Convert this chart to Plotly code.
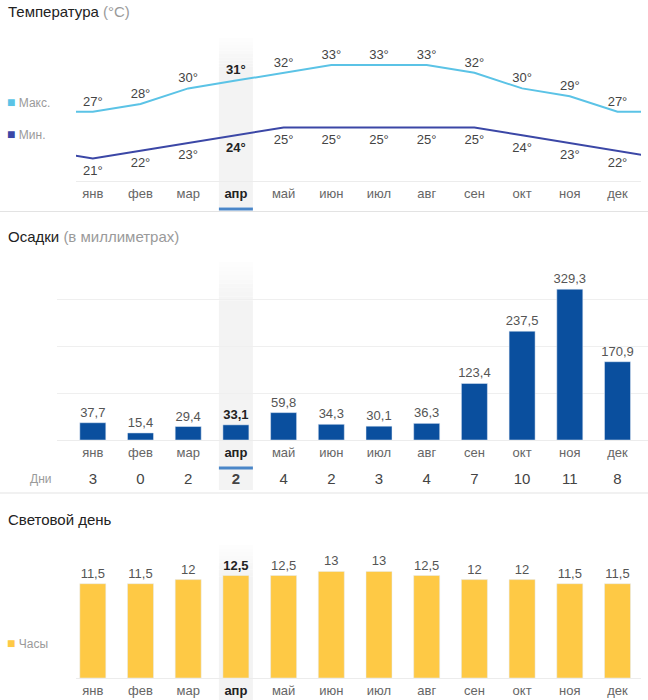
import plotly.graph_objects as go

# ---------------- data ----------------
months = ["янв", "фев", "мар", "апр", "май", "июн", "июл", "авг", "сен", "окт", "ноя", "дек"]
t_max = [27, 28, 30, 31, 32, 33, 33, 33, 32, 30, 29, 27]
t_min = [21, 22, 23, 24, 25, 25, 25, 25, 25, 24, 23, 22]
precip_mm = [37.7, 15.4, 29.4, 33.1, 59.8, 34.3, 30.1, 36.3, 123.4, 237.5, 329.3, 170.9]
rain_days = [3, 0, 2, 2, 4, 2, 3, 4, 7, 10, 11, 8]
daylight_h = [11.5, 11.5, 12, 12.5, 12.5, 13, 13, 12.5, 12, 12, 11.5, 11.5]
current = 3  # апр

# ---------------- geometry helpers ----------------
W, H = 648, 700
FONT = "Liberation Sans, Arial, sans-serif"
C0, STEP = 92.8, 47.7  # pixel centre of first month, pixel step


def fx(px):
    return px / W


def fy(py):
    return 1 - py / H


def ux(px):  # pixel -> category unit
    return (px - C0) / STEP


def fmt(v):
    s = f"{v:.1f}".replace(".", ",")
    return s[:-2] if s.endswith(",0") else s


idx = list(range(12))
tick_text = [f"<span style='color:#222'><b>{m}</b></span>" if i == current else m
             for i, m in enumerate(months)]

MAXC, MINC = "#5bc3e6", "#3b47a6"
BLUE, YEL = "#0a4f9e", "#fec945"
LAB, LABB = "#444444", "#222222"

fig = go.Figure()

# ---------------- temperature ----------------
xs = [-1] + idx + [12]
for vals, col, pos, msize in [(t_max, MAXC, "top center", 3), (t_min, MINC, "bottom center", 9)]:
    ys = [vals[-1]] + vals + [vals[0]]
    txt = [""] + [f"<b>{v}°</b>" if i == current else f"{v}°" for i, v in enumerate(vals)] + [""]
    tcol = [LAB] + [LABB if i == current else LAB for i in idx] + [LAB]
    fig.add_trace(go.Scatter(x=xs, y=ys, mode="lines+markers+text", text=txt, textposition=pos,
                             textfont=dict(size=13, color=tcol, family=FONT),
                             marker=dict(size=msize, color="rgba(0,0,0,0)"),
                             line=dict(color=col, width=2), xaxis="x", yaxis="y",
                             hoverinfo="skip", showlegend=False))

# ---------------- precipitation ----------------
fig.add_trace(go.Bar(x=idx, y=precip_mm, width=0.545, marker_color=BLUE,
                     text=[f"<b>{fmt(v)}</b>" if i == current else fmt(v) for i, v in enumerate(precip_mm)],
                     textposition="outside", cliponaxis=False, constraintext="none",
                     textfont=dict(size=13, color=[LABB if i == current else "#555" for i in idx], family=FONT),
                     xaxis="x2", yaxis="y2", hoverinfo="skip", showlegend=False))

fig.add_trace(go.Scatter(x=idx, y=[0.5] * 12, mode="text",
                         text=[f"<b>{d}</b>" if i == current else str(d) for i, d in enumerate(rain_days)],
                         textfont=dict(size=15, color=LAB, family=FONT),
                         xaxis="x2", yaxis="y4", hoverinfo="skip", showlegend=False))

# ---------------- daylight ----------------
fig.add_trace(go.Bar(x=idx, y=daylight_h, width=0.545, marker_color=YEL,
                     text=[f"<b>{fmt(v)}</b>" if i == current else fmt(v) for i, v in enumerate(daylight_h)],
                     textposition="outside", cliponaxis=False, constraintext="none",
                     textfont=dict(size=13, color=[LABB if i == current else "#555" for i in idx], family=FONT),
                     xaxis="x3", yaxis="y3", hoverinfo="skip", showlegend=False))

# ---------------- axes ----------------
xr_narrow = [ux(76), ux(641)]
xr_wide = [ux(57), ux(648)]


def xax(domain_px, rng, anchor):
    return dict(domain=[fx(domain_px[0]), fx(domain_px[1])], range=rng, anchor=anchor,
                tickmode="array", tickvals=idx, ticktext=tick_text, ticks="",
                tickfont=dict(size=13, color="#666", family=FONT),
                showline=True, linecolor="#ececec", linewidth=1,
                showgrid=False, zeroline=False, fixedrange=True)


T_PX = 7.8
temp_lo = 33 - (181 - 65) / T_PX
temp_hi = 33 + (65 - 45) / T_PX
P_PX = 0.458
D_PX = 8.2

fig.update_layout(
    width=W, height=H, margin=dict(l=0, r=0, t=0, b=0),
    paper_bgcolor="white", plot_bgcolor="rgba(0,0,0,0)",
    font=dict(family=FONT, color="#444"),
    xaxis=xax((76, 641), xr_narrow, "y"),
    yaxis=dict(domain=[fy(181), fy(45)], range=[temp_lo, temp_hi], visible=False, fixedrange=True),
    xaxis2=xax((57, 648), xr_wide, "y2"),
    yaxis2=dict(domain=[fy(440), fy(263)], range=[0, (440 - 263) / P_PX], anchor="x2",
                showticklabels=False, ticks="", tickmode="array", tickvals=[102, 204, 306],
                showgrid=True, gridcolor="#efefef", gridwidth=1, zeroline=False, fixedrange=True),
    yaxis4=dict(domain=[fy(490), fy(470)], range=[0, 1], anchor="x2", visible=False, fixedrange=True),
    xaxis3=xax((76, 641), xr_narrow, "y3"),
    yaxis3=dict(domain=[fy(678), fy(550)], range=[0, (678 - 550) / D_PX], anchor="x3",
                visible=False, fixedrange=True),
    showlegend=False,
)

# ---------------- highlight band, underlines, dividers ----------------
shapes = []
hw = 17 / STEP


def band(y_top, y_fade, y_bot, xref):
    n = 10
    step = (y_fade - y_top) / n
    for k in range(n):
        g = int(255 - (255 - 243) * (k + 1) / n)
        shapes.append(dict(type="rect", xref=xref, yref="paper", x0=current - hw, x1=current + hw,
                           y0=fy(y_top + step * (k + 1)), y1=fy(y_top + step * k),
                           fillcolor=f"rgb({g},{g},{g})", line=dict(width=0), layer="below"))
    shapes.append(dict(type="rect", xref=xref, yref="paper", x0=current - hw, x1=current + hw,
                       y0=fy(y_bot), y1=fy(y_fade), fillcolor="rgb(243,243,243)",
                       line=dict(width=0), layer="below"))


band(38, 70, 207, "x")
band(262, 305, 490, "x2")
band(545, 580, 700, "x3")

for yp, xref in [(209, "x"), (468, "x2")]:
    shapes.append(dict(type="line", xref=xref, yref="paper", x0=current - hw, x1=current + hw,
                       y0=fy(yp), y1=fy(yp), line=dict(color="#4a86c8", width=3)))
for yp in (211.5, 493):
    shapes.append(dict(type="line", xref="paper", yref="paper", x0=0, x1=1, y0=fy(yp), y1=fy(yp),
                       line=dict(color="#e3e3e3", width=1)))
fig.update_layout(shapes=shapes)

# ---------------- titles & legends ----------------
ann = []


def note(text, xp, yp, size, color):
    ann.append(dict(text=text, xref="paper", yref="paper", x=fx(xp), y=fy(yp),
                    xanchor="left", yanchor="middle", showarrow=False,
                    font=dict(size=size, color=color, family=FONT)))


note("Температура <span style='color:#9a9a9a'>(°C)</span>", 6, 12, 15, "#222")
note("Осадки <span style='color:#9a9a9a'>(в миллиметрах)</span>", 6, 236, 15, "#222")
note("Световой день", 6, 519, 15, "#222")

note(f"<span style='color:{MAXC};font-size:14px'>■</span> Макс.", 5, 102, 12, "#9a9a9a")
note(f"<span style='color:{MINC};font-size:14px'>■</span> Мин.", 5, 134, 12, "#9a9a9a")
note(f"<span style='color:{YEL};font-size:14px'>■</span> Часы", 5, 643, 12, "#9a9a9a")
note("Дни", 28, 479, 12, "#9a9a9a")
fig.update_layout(annotations=ann)

fig.write_html("out.html", config={"displayModeBar": False},
               post_script="document.body.style.margin='0';")
